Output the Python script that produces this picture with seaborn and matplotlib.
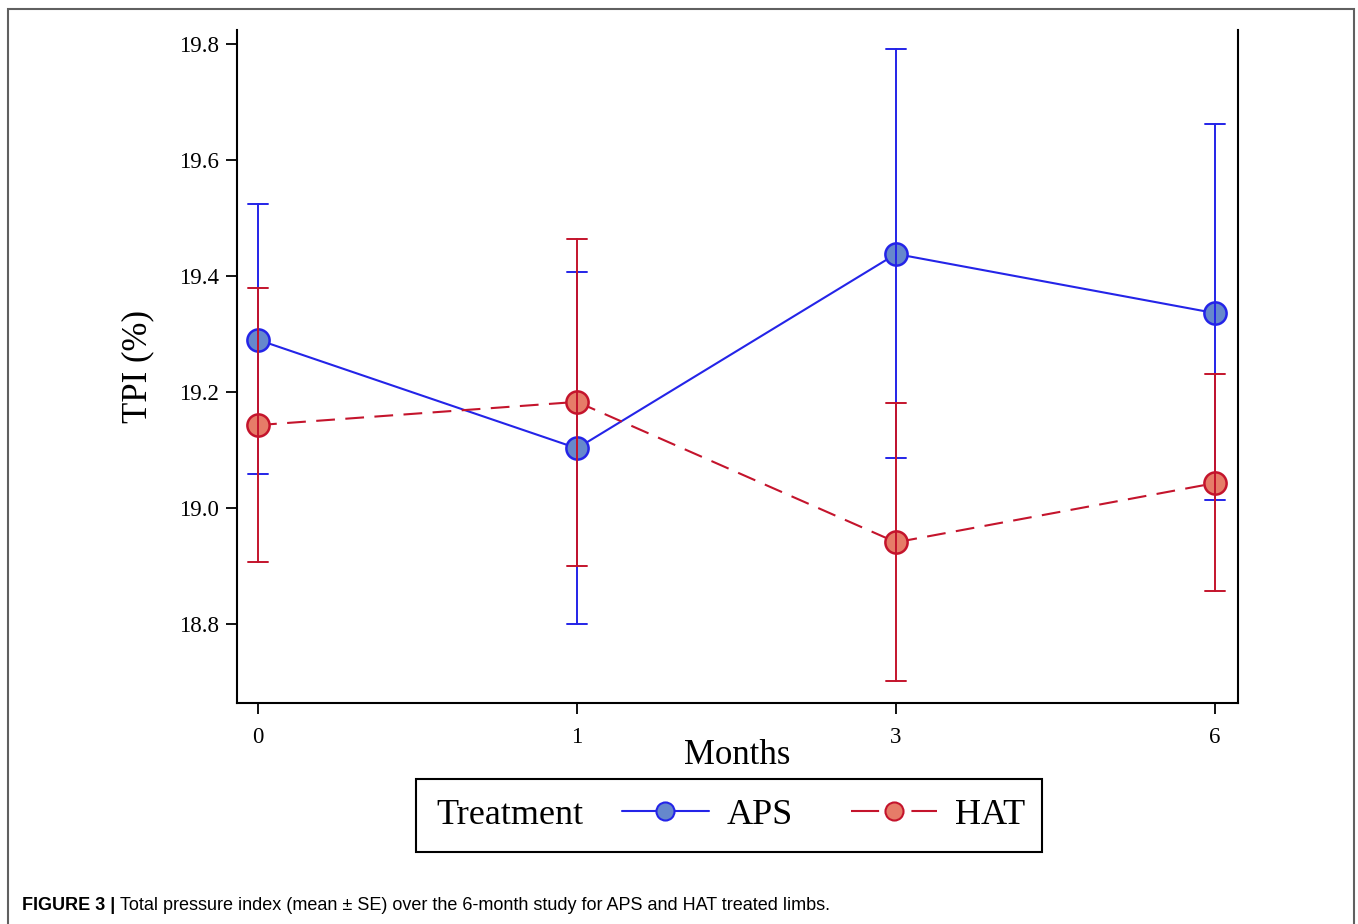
import matplotlib
matplotlib.use("Agg")
import matplotlib.pyplot as plt
from matplotlib.lines import Line2D
from matplotlib.patches import Rectangle
import seaborn as sns
import pandas as pd

# Total pressure index, mean and +/- SE bounds
months = ["0", "1", "3", "6"]
aps_mean = [19.29, 19.103, 19.438, 19.336]
aps_low = [19.059, 18.80, 19.086, 19.014]
aps_high = [19.524, 19.407, 19.791, 19.662]
hat_mean = [19.143, 19.183, 18.941, 19.043]
hat_low = [18.907, 18.90, 18.702, 18.857]
hat_high = [19.379, 19.464, 19.181, 19.231]

treatments = ["APS", "HAT"]
line_colors = {"APS": "#2424E8", "HAT": "#C4142C"}
face_colors = {"APS": "#6688CC", "HAT": "#E67C68"}

# long table: low / mean / high per point -> median gives the mean, min/max give the SE bar
rows = []
for trt, lo, mu, hi in [("APS", aps_low, aps_mean, aps_high), ("HAT", hat_low, hat_mean, hat_high)]:
    for m, a, b, c in zip(months, lo, mu, hi):
        for v in (a, b, c):
            rows.append({"Months": m, "TPI": v, "Treatment": trt})
df = pd.DataFrame(rows)

sns.set_style("ticks")
plt.rcParams["font.family"] = ["Liberation Serif", "DejaVu Serif"]
plt.rcParams["text.color"] = "black"
plt.rcParams["axes.labelcolor"] = "black"

W, H = 1358, 924
fig = plt.figure(figsize=(W / 100, H / 100), dpi=100)
ax = fig.add_axes([237 / W, 1 - 703 / H, (1238 - 237) / W, (703 - 30) / H])

sns.pointplot(
    data=df, x="Months", y="TPI", hue="Treatment",
    order=months, hue_order=treatments,
    estimator="median", errorbar=lambda v: (v.min(), v.max()),
    palette=line_colors, markers="o", capsize=0.065,
    err_kws={"linewidth": 1.4}, markersize=16, linewidth=1.5,
    dodge=False, legend=False, ax=ax,
)

for ln in ax.lines:
    col = matplotlib.colors.to_hex(ln.get_color()).upper()
    trt = "APS" if col == line_colors["APS"].upper() else "HAT"
    if ln.get_marker() == "o":
        ln.set_markerfacecolor(face_colors[trt])
        ln.set_markeredgecolor(line_colors[trt])
        ln.set_markeredgewidth(1.8)
        if trt == "HAT":
            ln.set_dashes([9, 5])

ax.set_xlim(-0.066, 3.072)
ax.set_ylim(18.664, 19.824)
ax.set_yticks([18.8, 19.0, 19.2, 19.4, 19.6, 19.8])
ax.set_yticklabels([f"{t:.1f}" for t in ax.get_yticks()])
sns.despine(ax=ax, top=True, right=False)
for side in ["left", "bottom", "right"]:
    ax.spines[side].set_linewidth(1.5)
    ax.spines[side].set_color("black")
ax.tick_params(axis="both", direction="out", length=8, width=1.3, labelsize=16.5, colors="black")
ax.tick_params(axis="x", pad=9)
ax.tick_params(axis="y", pad=5)
ax.set_xlabel("Months", fontsize=25, labelpad=-6)
ax.set_ylabel("TPI (%)", fontsize=25, labelpad=18)

# legend: "Treatment" label + entries inside a black box
lw = 26
fig.add_artist(Rectangle((416 / W, 1 - 852 / H), (1042 - 416) / W, (852 - 779) / H,
                         transform=fig.transFigure, fill=False, edgecolor="black", linewidth=1.5))
fig.text(436 / W, 1 - 815 / H, "Treatment", fontsize=lw, ha="left", va="center")
handles = [
    Line2D([], [], color=line_colors["APS"], marker="o", markersize=13, linewidth=1.5,
           markerfacecolor=face_colors["APS"], markeredgecolor=line_colors["APS"], markeredgewidth=1.5),
    Line2D([], [], color=line_colors["HAT"], marker="o", markersize=13, linewidth=1.5,
           linestyle=(0, (13.5, 15.5)),
           markerfacecolor=face_colors["HAT"], markeredgecolor=line_colors["HAT"], markeredgewidth=1.5),
]
fig.legend(handles, treatments, ncol=2, loc="center left", bbox_to_anchor=(622 / W, 1 - 815 / H),
           frameon=False, fontsize=lw, handlelength=2.4, handletextpad=0.5, columnspacing=1.6,
           borderpad=0, borderaxespad=0)

# outer frame and caption
fig.add_artist(Rectangle((8 / W, -0.05), (1354 - 8) / W, 1.05 - 9 / H, transform=fig.transFigure,
                         fill=False, edgecolor="#606060", linewidth=1.5))
cap_y = 1 - 906 / H
t1 = fig.text(22 / W, cap_y, "FIGURE 3 |", fontsize=13, fontweight="bold",
              family="Liberation Sans", va="center", ha="left")
fig.canvas.draw()
bb = t1.get_window_extent(renderer=fig.canvas.get_renderer())
fig.text((bb.x1 + 5) / W, cap_y,
         "Total pressure index (mean \u00b1 SE) over the 6-month study for APS and HAT treated limbs.",
         fontsize=13, family="Liberation Sans", va="center", ha="left")

fig.savefig("out.png", dpi=100)
